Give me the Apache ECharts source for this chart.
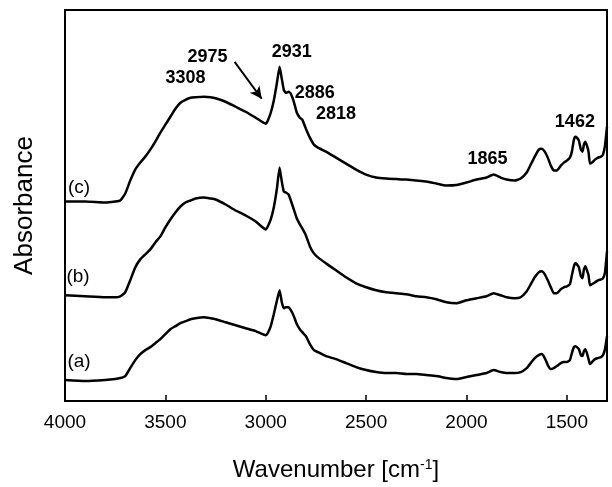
<!DOCTYPE html>
<html>
<head>
<meta charset="utf-8">
<script src="https://cdn.jsdelivr.net/npm/echarts/dist/echarts.min.js"></script>
<style>
html,body{margin:0;padding:0;background:#fff;}
#chart{width:612px;height:487px;}
</style>
</head>
<body>
<div id="chart"></div>
<script>
// Shared wavenumber grid (cm-1)
var wavenumbers = [4000,3900,3800,3750,3725,3700,3675,3650,3625,3600,3575,3550,3525,3500,3475,3450,3425,3400,3375,3350,3308,3275,3250,3200,3150,3100,3050,3000,2990,2975,2960,2945,2931,2920,2910,2900,2886,2875,2860,2845,2830,2818,2800,2780,2760,2740,2700,2650,2600,2550,2500,2450,2400,2350,2300,2250,2200,2150,2100,2050,2000,1950,1900,1865,1830,1800,1760,1730,1700,1680,1660,1640,1625,1610,1595,1580,1565,1550,1530,1515,1500,1485,1475,1465,1458,1450,1440,1430,1422,1415,1408,1400,1392,1385,1375,1360,1345,1330,1320,1310,1300];

// Absorbance (arbitrary units, offset spectra)
var absA = [21,20,21,22,23,25,33,41,47,51,54,58,62,67,72,75,78,80,82,83,84,83,82,79,76,73,70,66,68,75,87,100,111,99,93,94,94,91,85,77,72,69,65,57,51,49,45,42,38,34,31,29,28,28,27,27,26,25,23,22,24,26,28,31,29,28,28,29,33,38,43,46,47,43,36,32,33,35,38,39,39,41,48,54,55,54,52,46,45,50,52,48,42,37,39,42,43,44,46,52,65];

var absB = [106,105,104,104,105,109,121,134,142,147,152,159,165,174,182,189,195,199,201,203,204,203,202,197,191,186,180,172,175,182,194,212,234,220,210,209,207,201,192,183,177,173,166,155,148,144,138,131,124,118,114,111,109,108,107,105,104,102,99,98,101,103,105,108,106,104,103,104,110,117,124,129,130,127,121,114,108,108,112,114,115,117,126,135,138,137,134,125,123,132,135,131,126,116,117,119,121,122,123,129,150];

var absC = [200,200,199,200,201,208,221,232,239,245,252,260,269,277,285,293,299,302,304,304.5,305,304.5,303.5,300,295,290,284,278,281,289,301,318,335,323,312,309,310,308,300,289,284,282,273,264,257,254,250,244,238,232,227,224,223,222.5,222,221,220,218,216,216.5,219,222,224,227,224,222,221,223,229,237,245,252,253,250,244,236,231,231,236,239,241,244,250,262,265,264,261,252,250,257,260,256,250,238,239,242,244,245,247,256,275];

var tickValues = [4000,3500,3000,2500,2000,1500];

var curveNames = ['(a)','(b)','(c)'];
var curveLabelX = [3930,3935,3930];
var curveLabelY = [39,125,214];

var peakTexts = ['3308','2975','2931','2886','2818','1865','1462'];
var peakTextX = [3400,3290,2870,2756,2650,1895,1460];
var peakTextY = [324,345,350,309,288,243,280];

var arrowFrom = [3155,340];
var arrowTo = [3020,303];

function pairs(ys){ return wavenumbers.map(function(w,i){ return [w, ys[i]]; }); }

var chart = echarts.init(document.getElementById('chart'), null, {renderer:'canvas'});
var FONT = 'Liberation Sans, Arial, sans-serif';
var lineSeries = [absA, absB, absC].map(function(ys, i){
  return {
    type:'line', name: curveNames[i], data: pairs(ys), showSymbol:false, smooth:0.15,
    lineStyle:{color:'#000', width:2.5}, silent:true, z:3
  };
});

var option = {
  animation:false,
  backgroundColor:'#fff',
  grid:{left:65, right:5, top:10, bottom:85, show:true, borderColor:'#000', borderWidth:2, containLabel:false},
  xAxis:{
    type:'value', min:1300, max:4000, inverse:true,
    name:'Wavenumber [cm{sup|-1}]', nameLocation:'middle', nameGap:57,
    nameTextStyle:{fontFamily:FONT, fontSize:24, color:'#000',
      rich:{sup:{fontFamily:FONT, fontSize:14, color:'#000', verticalAlign:'top', padding:[0,0,10,0]}}},
    axisLine:{show:true, lineStyle:{color:'#000', width:2}},
    axisTick:{show:true, inside:true, length:6, lineStyle:{color:'#000', width:1.5}, customValues:tickValues},
    axisLabel:{show:true, fontFamily:FONT, fontSize:19, color:'#000', margin:12, customValues:tickValues,
      formatter:function(v){return String(v);}},
    splitLine:{show:false}
  },
  yAxis:{
    type:'value', min:0, max:392,
    name:'Absorbance', nameLocation:'middle', nameGap:27, nameRotate:90,
    nameTextStyle:{fontFamily:FONT, fontSize:26, color:'#000'},
    axisLine:{show:true, lineStyle:{color:'#000', width:2}},
    axisTick:{show:false}, axisLabel:{show:false}, splitLine:{show:false}
  },
  series: lineSeries.concat([
    {
      type:'scatter', symbolSize:0, silent:true, z:5,
      itemStyle:{color:'#000', opacity:1},
      data: curveNames.map(function(n,i){ return {name:n, value:[curveLabelX[i], curveLabelY[i]]}; }),
      label:{show:true, position:'inside', formatter:'{b}', fontFamily:FONT, fontSize:19, color:'#000', opacity:1, textBorderWidth:0}
    },
    {
      type:'scatter', symbolSize:0, silent:true, z:5,
      itemStyle:{color:'#000', opacity:1},
      data: peakTexts.map(function(t,i){ return {name:t, value:[peakTextX[i], peakTextY[i]]}; }),
      label:{show:true, position:'inside', formatter:'{b}', fontFamily:FONT, fontSize:18, fontWeight:'bold', color:'#000', opacity:1, textBorderWidth:0},
      markLine:{
        silent:true, symbol:['none','arrow'], symbolSize:[9,12],
        lineStyle:{color:'#000', width:2, type:'solid', opacity:1},
        label:{show:false},
        data:[[{coord:arrowFrom},{coord:arrowTo}]]
      }
    }
  ])
};
chart.setOption(option);
</script>
</body>
</html>
